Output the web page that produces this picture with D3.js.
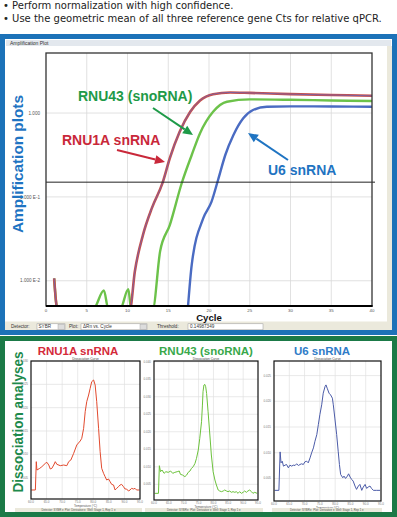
<!DOCTYPE html>
<html><head><meta charset="utf-8">
<script src="https://cdn.jsdelivr.net/npm/d3@7/dist/d3.min.js"></script>
<style>html,body{margin:0;padding:0;background:#fff}svg{display:block}</style>
</head><body>
<svg id="chart" width="397" height="517"></svg>
<script>
// ---------------- data ----------------
const bulletLines = [
  "\u2022 Perform normalization with high confidence.",
  "\u2022 Use the geometric mean of all three reference gene Cts for relative qPCR."
];
const cycleTicks = [0, 5, 10, 15, 20, 25, 30, 35, 40];
const deltaRnTicks = [1, 0.1, 0.01];
const deltaRnTickLabels = ["1.000", "1.000 E-1", "1.000 E-2"];
const thresholdValue = 0.14987349;

const rnu1aCycles = [1, 1.4, 10.3, 10.9, 11.9, 13.0, 14.3, 15.2, 16.4, 17.7, 18.9, 20.5, 22.6, 25, 30, 35, 40];
const rnu1aDeltaRn = [0.0107, 0.0046, 0.0046, 0.0129, 0.0353, 0.074, 0.147, 0.291, 0.598, 1.035, 1.413, 1.679, 1.758, 1.738, 1.679, 1.641, 1.607];
const rnu43Cycles = [1, 1.4, 5.8, 7.1, 7.65, 9.1, 10.1, 10.45, 13.1, 14.0, 15.2, 16.65, 17.88, 18.9, 20.5, 22.2, 25, 30, 35, 40];
const rnu43DeltaRn = [0.0107, 0.0046, 0.0046, 0.00767, 0.0046, 0.0046, 0.00794, 0.0046, 0.0046, 0.0224, 0.0465, 0.1455, 0.316, 0.575, 1.035, 1.365, 1.455, 1.439, 1.413, 1.39];
const u6Cycles = [17.4, 17.88, 19.3, 20.3, 21.1, 22.0, 23.0, 24.2, 25.4, 27.1, 30, 35, 40];
const u6DeltaRn = [0.0046, 0.0155, 0.0557, 0.0871, 0.158, 0.316, 0.547, 0.865, 1.086, 1.189, 1.202, 1.197, 1.189];

const tempTicks = [60, 65, 70, 75, 80, 85, 90, 95];
const rnu1aTemp = [60.1,61.4,61.7,61.9,62.8,63.5,64.6,65.1,65.7,66.2,66.7,67.3,67.8,68.3,69.4,70.5,71.5,72.1,72.8,73.7,74.7,75.8,76.3,76.9,77.4,77.9,78.5,79.0,79.5,80.1,80.6,81.1,81.7,82.2,82.7,83.3,83.8,84.3,84.9,85.4,85.9,86.5,87.0,87.5,88.1,88.6,89.1,89.7,90.2,90.7,91.3,91.8,92.3,92.9,93.4,93.9,94.8];
const rnu1aDeriv = [2.36,2.36,8.43,6.64,7.0,7.36,8.07,8.29,7.71,6.86,7.0,7.71,8.43,7.86,7.57,7.71,7.57,8.43,8.79,10.21,12.0,12.86,13.43,15.57,19.14,21.29,22.71,24.14,25.57,25.93,24.86,21.29,15.57,10.57,7.0,5.93,5.21,4.5,4.71,4.14,3.57,3.43,2.36,2.71,3.07,3.43,3.57,3.07,2.57,2.57,2.14,2.36,2.71,2.57,2.71,2.36,2.36];
const rnu1aDerivTicks = [5, 10, 15, 20, 25, 30];
const rnu43Temp = [60.2,61.5,61.8,62.2,62.7,63.4,64.0,64.8,65.6,66.3,67.0,67.8,68.5,68.9,69.6,70.4,71.0,71.5,72.1,72.6,73.2,73.8,74.3,74.9,75.4,76.0,76.3,76.5,76.8,77.1,77.4,77.7,78.2,78.8,79.3,79.9,80.5,81.0,81.6,82.1,82.7,83.3,83.8,84.4,84.9,85.5,86.0,86.6,87.2,87.7,88.3,88.8,89.4,90.0,90.5,91.1,91.6,92.2,92.8,93.3,93.9,94.7];
const rnu43Deriv = [2.43,2.43,10.32,8.61,9.09,8.14,8.61,8.42,8.80,8.14,8.42,8.61,8.80,7.85,7.66,7.19,7.66,8.42,8.80,9.56,10.04,10.99,12.42,14.79,18.12,22.87,27.62,31.43,33.33,33.52,32.86,30.95,25.72,19.07,13.37,8.61,6.24,4.81,3.38,3.10,2.91,3.10,3.38,3.10,2.91,3.10,2.72,2.91,2.72,2.91,2.43,2.91,2.43,2.72,3.10,2.72,3.10,3.38,2.91,2.43,2.72,2.43];
const rnu43DerivTicks = [5, 10, 15, 20, 25, 30, 35, 40];
const u6Temp = [60.2,61.6,62.0,62.3,62.7,63.1,63.6,64.1,64.7,65.2,65.8,66.3,66.9,67.4,68.0,68.5,69.0,69.6,70.1,70.7,71.2,71.8,72.3,72.9,73.4,74.0,74.5,75.0,75.6,76.1,76.7,77.0,77.4,78.0,78.5,79.1,79.4,79.9,80.5,81.0,81.4,81.8,82.5,82.9,83.4,84.0,84.4,84.9,85.4,85.9,86.5,87.0,87.6,88.1,88.7,89.2,89.8,90.3,90.8,91.4,91.9,92.5,93.6,94.7];
const u6Deriv = [2.68,2.68,10.16,8.03,8.35,7.39,7.58,7.71,7.06,7.58,7.39,7.58,7.52,7.84,7.52,7.71,7.84,7.71,8.23,8.35,8.03,9.0,9.97,10.94,12.23,13.52,15.45,17.39,19.32,21.58,22.87,23.19,22.55,21.58,21.26,20.61,19.32,16.74,13.52,10.29,7.71,5.77,5.13,5.45,5.0,5.45,5.90,5.26,4.81,4.48,3.52,2.87,3.52,3.84,2.68,3.32,3.84,3.06,3.32,3.52,3.06,2.68,2.68,2.68];
const u6DerivTicks = [5, 10, 15, 20, 25];

// ---------------- drawing ----------------
const svg = d3.select("#chart");
const FONT = "'Liberation Sans', Arial, sans-serif";
const BLUE = "#1c72b8", GREEN = "#1b7a47", BEIGE = "#ebe9dc";

// header bullets
svg.selectAll("text.bullet").data(bulletLines).join("text")
  .attr("class", "bullet")
  .attr("x", 3).attr("y", (d, i) => 9 + i * 12.5)
  .attr("font-family", "'DejaVu Sans', Verdana, sans-serif")
  .attr("font-size", 10).attr("fill", "#222")
  .text(d => d);

// ============ amplification panel ============
svg.append("rect").attr("x", 5).attr("y", 39).attr("width", 387).attr("height", 293).attr("fill", "#fff");
svg.append("rect").attr("x", 6).attr("y", 40).attr("width", 385).attr("height", 6).attr("fill", "#e3e8ee");
svg.append("text").attr("x", 10).attr("y", 45).attr("font-family", FONT).attr("font-size", 5)
  .attr("fill", "#333").text("Amplification Plot");
svg.append("rect").attr("x", 387).attr("y", 46).attr("width", 5).attr("height", 276).attr("fill", BEIGE);
svg.append("rect").attr("x", 5).attr("y", 321.5).attr("width", 387).attr("height", 10.5).attr("fill", BEIGE);

const ax = d3.scaleLinear().domain([0, 40]).range([46, 372]);
const ay = d3.scaleLog().domain([0.005, 5.2]).range([306, 53]);

const gAmp = svg.append("g");
// grid
gAmp.selectAll("line.vg").data(cycleTicks.slice(1, -1)).join("line")
  .attr("x1", d => ax(d)).attr("x2", d => ax(d)).attr("y1", 53).attr("y2", 306)
  .attr("stroke", "#d9d9d9").attr("stroke-width", 0.8);
gAmp.selectAll("line.hg").data(deltaRnTicks).join("line")
  .attr("x1", 46).attr("x2", 372).attr("y1", d => ay(d)).attr("y2", d => ay(d))
  .attr("stroke", "#d9d9d9").attr("stroke-width", 0.8);

// axes labels
gAmp.selectAll("text.yt").data(deltaRnTicks).join("text")
  .attr("x", 40).attr("y", d => ay(d) + 1.7).attr("text-anchor", "end")
  .attr("font-family", FONT).attr("font-size", 4.6).attr("fill", "#555")
  .text((d, i) => deltaRnTickLabels[i]);
gAmp.selectAll("text.xt").data(cycleTicks).join("text")
  .attr("x", d => ax(d)).attr("y", 312.2).attr("text-anchor", "middle")
  .attr("font-family", FONT).attr("font-size", 4.4).attr("fill", "#555")
  .text(d => d);
gAmp.append("text").attr("x", 209).attr("y", 320.8).attr("text-anchor", "middle")
  .attr("font-family", FONT).attr("font-weight", "bold").attr("font-size", 9.6).attr("fill", "#111")
  .text("Cycle");

// clip
svg.append("defs").append("clipPath").attr("id", "ampClip")
  .append("rect").attr("x", 46).attr("y", 53).attr("width", 326).attr("height", 253);

const ampLine = d3.line().x(d => ax(d[0])).y(d => ay(d[1])).curve(d3.curveMonotoneX);
const zip = (a, b) => a.map((v, i) => [v, b[i]]);
const gCurves = gAmp.append("g").attr("clip-path", "url(#ampClip)");
gCurves.append("path").datum(zip(rnu43Cycles, rnu43DeltaRn)).attr("d", ampLine)
  .attr("fill", "none").attr("stroke", "#6cc24a").attr("stroke-width", 2.4);
gCurves.append("path").datum(zip(u6Cycles, u6DeltaRn)).attr("d", ampLine)
  .attr("fill", "none").attr("stroke", "#4a6bc2").attr("stroke-width", 2.4);
gCurves.append("path").datum(zip(rnu1aCycles, rnu1aDeltaRn)).attr("d", ampLine)
  .attr("fill", "none").attr("stroke", "#c8504a").attr("stroke-width", 2.6);
gCurves.append("path").datum(zip(rnu1aCycles, rnu1aDeltaRn)).attr("d", ampLine)
  .attr("fill", "none").attr("stroke", "#6a62b6").attr("stroke-width", 0.9).attr("opacity", 0.85);

// threshold
gAmp.append("line").attr("x1", 46).attr("x2", 375).attr("y1", ay(thresholdValue)).attr("y2", ay(thresholdValue))
  .attr("stroke", "#222").attr("stroke-width", 1);

// frame
gAmp.append("rect").attr("x", 46).attr("y", 53).attr("width", 326).attr("height", 253)
  .attr("fill", "none").attr("stroke", "#333").attr("stroke-width", 1.3);
gAmp.append("line").attr("x1", 46).attr("x2", 372.6).attr("y1", 306).attr("y2", 306)
  .attr("stroke", "#000").attr("stroke-width", 1.8);

// control bar
const cb = svg.append("g").attr("font-family", FONT).attr("font-size", 4.6).attr("fill", "#333");
cb.append("text").attr("x", 11).attr("y", 328.3).text("Detector:");
cb.append("rect").attr("x", 37).attr("y", 323.8).attr("width", 28).attr("height", 6).attr("fill", "#fff").attr("stroke", "#999").attr("stroke-width", 0.5);
cb.append("text").attr("x", 38.5).attr("y", 328.3).text("SYBR");
cb.append("rect").attr("x", 58).attr("y", 324.3).attr("width", 6.5).attr("height", 5).attr("fill", "#ddd").attr("stroke", "#999").attr("stroke-width", 0.4);
cb.append("text").attr("x", 69).attr("y", 328.3).text("Plot:");
cb.append("rect").attr("x", 81).attr("y", 323.8).attr("width", 66).attr("height", 6).attr("fill", "#fff").attr("stroke", "#999").attr("stroke-width", 0.5);
cb.append("text").attr("x", 83).attr("y", 328.3).text("\u0394Rn vs. Cycle");
cb.append("rect").attr("x", 140).attr("y", 324.3).attr("width", 6.5).attr("height", 5).attr("fill", "#ddd").attr("stroke", "#999").attr("stroke-width", 0.4);
cb.append("text").attr("x", 157).attr("y", 328.3).text("Threshold:");
cb.append("rect").attr("x", 188).attr("y", 323.8).attr("width", 75).attr("height", 6).attr("fill", "#fff").attr("stroke", "#999").attr("stroke-width", 0.5);
cb.append("text").attr("x", 190).attr("y", 328.3).text(String(thresholdValue));

// annotations
function arrow(x1, y1, x2, y2, color) {
  const ang = Math.atan2(y2 - y1, x2 - x1), L = 10, W = 4.5;
  const bx = x2 - L * Math.cos(ang), by = y2 - L * Math.sin(ang);
  svg.append("line").attr("x1", x1).attr("y1", y1).attr("x2", bx).attr("y2", by)
    .attr("stroke", color).attr("stroke-width", 2);
  const px = -Math.sin(ang) * W, py = Math.cos(ang) * W;
  svg.append("polygon").attr("points", [[x2, y2], [bx + px, by + py], [bx - px, by - py]].map(p => p.join(",")).join(" "))
    .attr("fill", color);
}
const lab = (x, y, t, c, anchor) => svg.append("text").attr("x", x).attr("y", y)
  .attr("text-anchor", anchor || "start").attr("font-family", FONT).attr("font-weight", "bold")
  .attr("font-size", 14).attr("fill", c).text(t);
lab(78, 101, "RNU43 (snoRNA)", "#1e9a48");
arrow(153, 108, 193, 135, "#1e9a48");
lab(62, 145, "RNU1A snRNA", "#c9283a");
arrow(117, 150, 165, 162, "#c9283a");
lab(268, 175, "U6 snRNA", "#1f74c2");
arrow(288, 160, 248, 133, "#1f74c2");

svg.append("text").attr("transform", "translate(22.5,164) rotate(-90)").attr("text-anchor", "middle")
  .attr("font-family", FONT).attr("font-weight", "bold").attr("font-size", 14.5).attr("fill", "#1f74c2")
  .attr("textLength", 138).attr("lengthAdjust", "spacingAndGlyphs")
  .text("Amplification plots");

// frames
svg.append("rect").attr("x", 2.5).attr("y", 36.5).attr("width", 392).attr("height", 296)
  .attr("fill", "none").attr("stroke", BLUE).attr("stroke-width", 5);

// ============ dissociation panel ============
svg.append("rect").attr("x", 2.5).attr("y", 338.5).attr("width", 392).attr("height", 176)
  .attr("fill", "none").attr("stroke", GREEN).attr("stroke-width", 5);
svg.append("text").attr("transform", "translate(22.5,422) rotate(-90)").attr("text-anchor", "middle")
  .attr("font-family", FONT).attr("font-weight", "bold").attr("font-size", 14.5).attr("fill", "#1e8a4c")
  .attr("textLength", 141).attr("lengthAdjust", "spacingAndGlyphs")
  .text("Dissociation analyses");

const miniCharts = [
  { title: "RNU1A snRNA", tc: "#d42a3a", lc: "#e24a2e", temp: rnu1aTemp, deriv: rnu1aDeriv, ticks: rnu1aDerivTicks,
    yDom: [0.43, 30], box: [31, 361, 140, 499], win: [15, 142], tx: 78 },
  { title: "RNU43 (snoRNA)", tc: "#38a84a", lc: "#6cc23c", temp: rnu43Temp, deriv: rnu43Deriv, ticks: rnu43DerivTicks,
    yDom: [0.53, 40.2], box: [154, 361, 258, 500], win: [145, 263], tx: 206 },
  { title: "U6 snRNA", tc: "#2f7cc8", lc: "#4b5ba8", temp: u6Temp, deriv: u6Deriv, ticks: u6DerivTicks,
    yDom: [0.61, 27.84], box: [274, 361, 381, 501], win: [272, 382], tx: 322 }
];

miniCharts.forEach((c, k) => {
  const [x0, y0, x1, y1] = c.box;
  const g = svg.append("g");
  const sx = d3.scaleLinear().domain([60, 95]).range([x0, x1]);
  const sy = d3.scaleLinear().domain(c.yDom).range([y1, y0]);
  g.append("text").attr("x", c.tx).attr("y", 355).attr("text-anchor", "middle")
    .attr("font-family", FONT).attr("font-weight", "bold").attr("font-size", 11.5).attr("fill", c.tc)
    .text(c.title);
  g.append("text").attr("x", (x0 + x1) / 2).attr("y", 359.5).attr("text-anchor", "middle")
    .attr("font-family", FONT).attr("font-size", 3.2).attr("fill", "#444").text("Dissociation Curve");
  g.selectAll("line.v").data(tempTicks.slice(1, -1)).join("line")
    .attr("x1", d => sx(d)).attr("x2", d => sx(d)).attr("y1", y0).attr("y2", y1)
    .attr("stroke", "#e0e0e0").attr("stroke-width", 0.7);
  g.selectAll("line.h").data(c.ticks).join("line")
    .attr("x1", x0).attr("x2", x1).attr("y1", d => sy(d)).attr("y2", d => sy(d))
    .attr("stroke", "#e0e0e0").attr("stroke-width", 0.7);
  g.selectAll("text.yt").data(c.ticks).join("text")
    .attr("x", x0 - 3).attr("y", d => sy(d) + 1).attr("text-anchor", "end")
    .attr("font-family", FONT).attr("font-size", 3).attr("fill", "#777")
    .text(d => d3.format(".3f")(d / 1000));
  g.selectAll("text.xt").data(tempTicks).join("text")
    .attr("x", d => sx(d)).attr("y", y1 + 4).attr("text-anchor", "middle")
    .attr("font-family", FONT).attr("font-size", 3).attr("fill", "#777")
    .text(d => d3.format(".1f")(d));
  g.append("text").attr("x", (x0 + x1) / 2).attr("y", y1 + 7.5).attr("text-anchor", "middle")
    .attr("font-family", FONT).attr("font-size", 3).attr("fill", "#555").text("Temperature (\u00b0C)");
  g.append("path").datum(zip(c.temp, c.deriv))
    .attr("d", d3.line().x(d => sx(d[0])).y(d => sy(d[1])))
    .attr("fill", "none").attr("stroke", c.lc).attr("stroke-width", 1);
  g.append("rect").attr("x", x0).attr("y", y0).attr("width", x1 - x0).attr("height", y1 - y0)
    .attr("fill", "none").attr("stroke", "#111").attr("stroke-width", 1.2);
  // control strip
  g.append("rect").attr("x", c.win[0]).attr("y", 508).attr("width", c.win[1] - c.win[0]).attr("height", 4)
    .attr("fill", BEIGE);
  const cxm = (c.win[0] + c.win[1]) / 2;
  g.append("text").attr("x", cxm).attr("y", 511).attr("text-anchor", "middle")
    .attr("font-family", FONT).attr("font-size", 2.8).attr("fill", "#555")
    .text("Detector: SYBR \u25BE  Plot: Derivative \u25BE  Well: Stage 1, Rep 1 \u25BE");
});
</script>
</body></html>
